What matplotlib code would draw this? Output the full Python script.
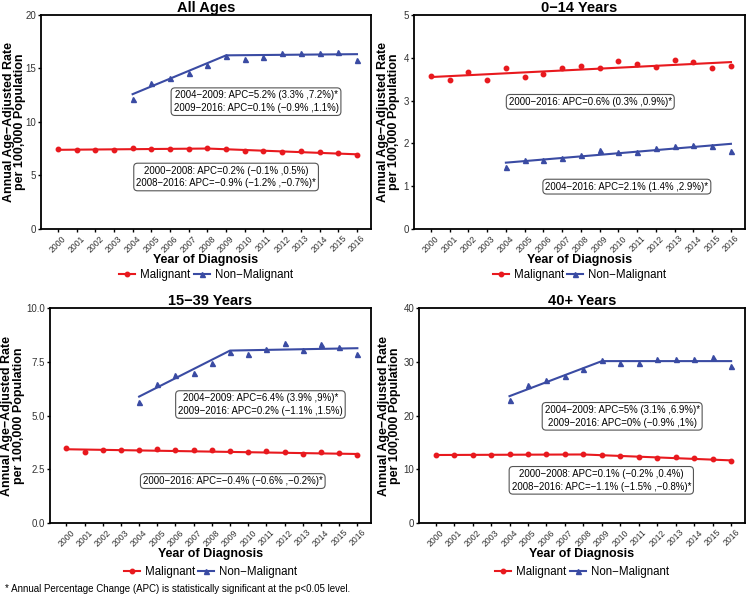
import matplotlib
matplotlib.use("Agg")
import matplotlib.pyplot as plt
import matplotlib.transforms as mtransforms
from matplotlib.lines import Line2D

plt.rcParams['font.family'] = ['Liberation Sans', 'DejaVu Sans']

years = list(range(2000, 2017))
nm_years = list(range(2004, 2017))

titles = ["All Ages", "0\u221214 Years", "15\u221239 Years", "40+ Years"]

# observed rates
mal_all = [7.43, 7.34, 7.4, 7.42, 7.53, 7.5, 7.47, 7.48, 7.53, 7.44, 7.31, 7.26, 7.2, 7.25, 7.15, 7.06, 6.87]
nm_all = [12.13, 13.6, 14.15, 14.6, 15.33, 16.17, 15.9, 16.05, 16.42, 16.42, 16.48, 16.55, 15.83]
mal_014 = [3.58, 3.48, 3.66, 3.48, 3.75, 3.55, 3.63, 3.77, 3.80, 3.77, 3.93, 3.86, 3.79, 3.96, 3.90, 3.75, 3.80]
nm_014 = [1.44, 1.61, 1.62, 1.66, 1.73, 1.84, 1.79, 1.79, 1.89, 1.94, 1.97, 1.95, 1.83]
mal_1539 = [3.47, 3.30, 3.41, 3.41, 3.38, 3.43, 3.41, 3.38, 3.40, 3.36, 3.30, 3.35, 3.30, 3.19, 3.32, 3.26, 3.15]
nm_1539 = [5.64, 6.45, 6.90, 6.98, 7.44, 7.95, 7.86, 8.09, 8.36, 8.06, 8.33, 8.19, 7.86]
mal_40 = [12.73, 12.67, 12.67, 12.73, 12.92, 12.92, 12.8, 12.8, 12.86, 12.73, 12.48, 12.3, 12.17, 12.3, 12.1, 11.99, 11.55]
nm_40 = [22.86, 25.65, 26.52, 27.33, 28.63, 30.25, 29.69, 29.81, 30.5, 30.5, 30.5, 30.8, 29.3]

# joinpoint fitted values at segment breaks
mal_fit_x = [[2000, 2008, 2016], [2000, 2016], [2000, 2016], [2000, 2008, 2016]]
mal_fit_y = [[7.40, 7.52, 6.98], [3.55, 3.90], [3.43, 3.21], [12.65, 12.75, 11.65]]
nm_fit_x = [[2004, 2009, 2016], [2004, 2016], [2004, 2009, 2016], [2004, 2009, 2016]]
nm_fit_y = [[12.6, 16.23, 16.34], [1.55, 1.99], [5.88, 8.02, 8.13], [23.6, 30.12, 30.12]]

nm_text = ["2004\u22122009: APC=5.2% (3.3% ,7.2%)*\n2009\u22122016: APC=0.1% (\u22120.9% ,1.1%)",
           "2004\u22122016: APC=2.1% (1.4% ,2.9%)*",
           "2004\u22122009: APC=6.4% (3.9% ,9%)*\n2009\u22122016: APC=0.2% (\u22121.1% ,1.5%)",
           "2004\u22122009: APC=5% (3.1% ,6.9%)*\n2009\u22122016: APC=0% (\u22120.9% ,1%)"]
mal_text = ["2000\u22122008: APC=0.2% (\u22120.1% ,0.5%)\n2008\u22122016: APC=\u22120.9% (\u22121.2% ,\u22120.7%)*",
            "2000\u22122016: APC=0.6% (0.3% ,0.9%)*",
            "2000\u22122016: APC=\u22120.4% (\u22120.6% ,\u22120.2%)*",
            "2000\u22122008: APC=0.1% (\u22120.2% ,0.4%)\n2008\u22122016: APC=\u22121.1% (\u22121.5% ,\u22120.8%)*"]
nm_text_pos = [(2010.6, 11.9), (2010.45, 0.99), (2010.67, 5.51), (2010.1, 19.85)]
mal_text_pos = [(2009.0, 4.86), (2008.5, 2.97), (2009.15, 1.95), (2008.97, 7.94)]

ylims = [20, 5, 10, 40]
yticks = [[0, 5, 10, 15, 20], [0, 1, 2, 3, 4, 5], [0, 2.5, 5, 7.5, 10], [0, 10, 20, 30, 40]]
ytickfmt = ["{:g}", "{:g}", "{:.1f}", "{:g}"]

mals = [mal_all, mal_014, mal_1539, mal_40]
nms = [nm_all, nm_014, nm_1539, nm_40]

RED = "#E8191E"
BLUE = "#3A4BA3"

W, H = 748, 597
fig = plt.figure(figsize=(W / 100, H / 100), dpi=100)

# axes boxes in pixels: left, top, right, bottom
boxes = [(41, 15, 371, 229), (414, 15, 745, 229), (50, 308, 371, 523), (419, 308, 745, 523)]
ylabel_x = [-0.045, -0.042, -0.078, -0.055]
legend_y = [-0.215, -0.216, -0.226, -0.226]

for i in range(4):
    l, t, r, b = boxes[i]
    ax = fig.add_axes([l / W, 1 - b / H, (r - l) / W, (b - t) / H])
    ax.plot(mal_fit_x[i], mal_fit_y[i], color=RED, lw=1.5, zorder=3)
    ax.plot(nm_fit_x[i], nm_fit_y[i], color=BLUE, lw=1.5, zorder=3)
    ax.plot(years, mals[i], 'o', color=RED, ms=3.2, zorder=4)
    ax.plot(nm_years, nms[i], '^', color=BLUE, ms=3.6, zorder=4)
    ax.set_xlim(1999.1, 2016.75)
    ax.set_ylim(0, ylims[i])
    ax.set_yticks(yticks[i])
    ax.set_yticklabels([ytickfmt[i].format(v) for v in yticks[i]], fontsize=7, color="#333333")
    ax.set_xticks(years)
    ax.set_xticklabels([str(y) for y in years], rotation=45, fontsize=6.2, color="#333333",
                       ha='center', va='top')
    off = mtransforms.ScaledTranslation(-4 / 100, 0, fig.dpi_scale_trans)
    for lab in ax.get_xticklabels():
        lab.set_transform(lab.get_transform() + off)
    for s in ax.spines.values():
        s.set_linewidth(1.3)
        s.set_color('black')
    ax.tick_params(axis='both', direction='out', length=2.5, width=1, color='black', pad=1)
    ax.set_title(titles[i], fontsize=10.5, fontweight='bold', pad=1.5)
    ax.set_xlabel("Year of Diagnosis", fontsize=9, fontweight='bold', labelpad=0)
    ax.set_ylabel("Annual Age\u2212Adjusted Rate\nper 100,000 Population", fontsize=9,
                  fontweight='bold', linespacing=0.95)
    ax.yaxis.set_label_coords(ylabel_x[i], 0.5)
    bbox = dict(boxstyle="round,pad=0.25,rounding_size=0.4", fc="white", ec="#555555", lw=0.8)
    ax.text(nm_text_pos[i][0], nm_text_pos[i][1], nm_text[i], fontsize=6.9, ha='center', va='center',
            bbox=bbox, linespacing=1.35, zorder=5)
    ax.text(mal_text_pos[i][0], mal_text_pos[i][1], mal_text[i], fontsize=6.9, ha='center', va='center',
            bbox=bbox, linespacing=1.35, zorder=5)
    handles = [Line2D([], [], color=RED, lw=1.5, marker='o', ms=3.2),
               Line2D([], [], color=BLUE, lw=1.5, marker='^', ms=3.6)]
    ax.legend(handles, ["Malignant", "Non\u2212Malignant"], loc='center',
              bbox_to_anchor=(0.5, legend_y[i]), ncol=2, frameon=False, fontsize=8.3,
              handlelength=1.4, handletextpad=0.4, columnspacing=0.3, borderaxespad=0,
              borderpad=0)

fig.text(5 / W, 1 - 589 / H, "* Annual Percentage Change (APC) is statistically significant at the p<0.05 level.",
         fontsize=7, va='center', ha='left')

fig.savefig("out.png", dpi=100)
